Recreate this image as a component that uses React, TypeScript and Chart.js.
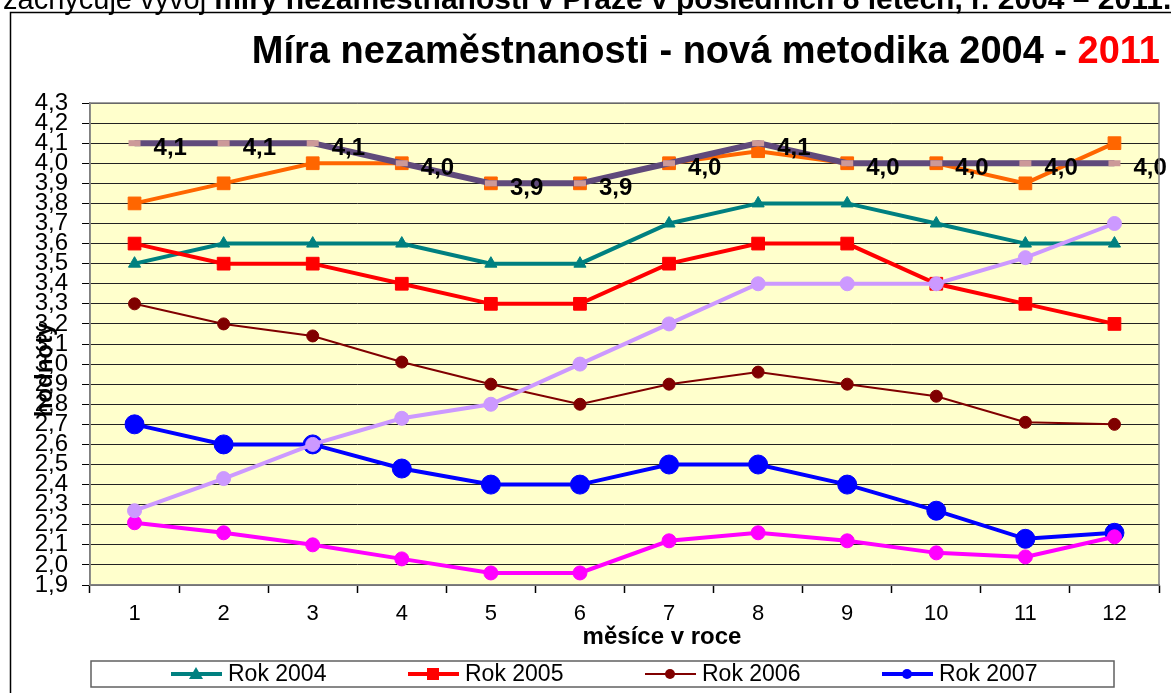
import React, { useEffect, useRef } from 'react';
import { Chart, registerables } from 'chart.js';

Chart.register(...registerables);

const FONT = '"Liberation Sans", Arial, sans-serif';

const months = ['1', '2', '3', '4', '5', '6', '7', '8', '9', '10', '11', '12'];
const seriesNames = ['Rok 2004', 'Rok 2005', 'Rok 2006', 'Rok 2007', 'Rok 2008', 'Rok 2009', 'Rok 2010', 'Rok 2011'];
const rok2004 = [3.5, 3.6, 3.6, 3.6, 3.5, 3.5, 3.7, 3.8, 3.8, 3.7, 3.6, 3.6];
const rok2005 = [3.6, 3.5, 3.5, 3.4, 3.3, 3.3, 3.5, 3.6, 3.6, 3.4, 3.3, 3.2];
const rok2006 = [3.3, 3.2, 3.14, 3.01, 2.9, 2.8, 2.9, 2.96, 2.9, 2.84, 2.71, 2.7];
const rok2007 = [2.7, 2.6, 2.6, 2.48, 2.4, 2.4, 2.5, 2.5, 2.4, 2.27, 2.13, 2.16];
const rok2008 = [2.21, 2.16, 2.1, 2.03, 1.96, 1.96, 2.12, 2.16, 2.12, 2.06, 2.04, 2.14];
const rok2009 = [2.27, 2.43, 2.6, 2.73, 2.8, 3.0, 3.2, 3.4, 3.4, 3.4, 3.53, 3.7];
const rok2010 = [3.8, 3.9, 4.0, 4.0, 3.9, 3.9, 4.0, 4.06, 4.0, 4.0, 3.9, 4.1];
const rok2011 = [4.1, 4.1, 4.1, 4.0, 3.9, 3.9, 4.0, 4.1, 4.0, 4.0, 4.0, 4.0];

const yMin = 1.9;
const yMax = 4.3;
const yStep = 0.1;

const titleMain = 'Míra nezaměstnanosti - nová metodika 2004 - ';
const titleRed = '2011';
const xTitle = 'měsíce v roce';
const yTitle = 'hodnoty';
const topTextRegular = 'zachycuje vývoj ';
const topTextBold = 'míry nezaměstnanosti v Praze v posledních 8 letech, r. 2004 – 2011.';

const fmt = (v: number) => v.toFixed(1).replace('.', ',');

const decorPlugin = {
  id: 'decor',
  beforeDraw(chart: any) {
    const ctx = chart.ctx;
    const a = chart.chartArea;
    ctx.save();
    ctx.fillStyle = '#ffffff';
    ctx.fillRect(0, 0, chart.width, chart.height);
    ctx.fillStyle = '#FFFFCC';
    ctx.fillRect(a.left, a.top, a.right - a.left, a.bottom - a.top);

    // cut-off document text at top
    ctx.fillStyle = '#000';
    ctx.textAlign = 'left';
    ctx.textBaseline = 'alphabetic';
    ctx.font = `29px ${FONT}`;
    ctx.fillText(topTextRegular, 3, 9);
    const w1 = ctx.measureText(topTextRegular).width;
    ctx.font = `bold 30px ${FONT}`;
    ctx.fillText(topTextBold, 3 + w1, 9);

    // frame of the chart object
    ctx.strokeStyle = '#000';
    ctx.lineWidth = 1.5;
    ctx.beginPath();
    ctx.moveTo(10.5, chart.height);
    ctx.lineTo(10.5, 12.5);
    ctx.lineTo(chart.width, 12.5);
    ctx.stroke();

    // title
    ctx.font = `bold 38px ${FONT}`;
    ctx.textAlign = 'right';
    ctx.fillStyle = '#FF0000';
    ctx.fillText(titleRed, 1160, 63);
    const wr = ctx.measureText(titleRed).width;
    ctx.fillStyle = '#000';
    ctx.fillText(titleMain, 1160 - wr, 63);
    ctx.restore();
  },
  afterDatasetsDraw(chart: any) {
    const ctx = chart.ctx;
    const idx = chart.data.datasets.length - 1;
    const meta = chart.getDatasetMeta(idx);
    const data = chart.data.datasets[idx].data;
    ctx.save();
    ctx.font = `bold 24px ${FONT}`;
    ctx.fillStyle = '#000';
    ctx.textAlign = 'left';
    ctx.textBaseline = 'middle';
    meta.data.forEach((pt: any, i: number) => {
      ctx.fillText(fmt(data[i]), pt.x + 19, pt.y + 5);
    });
    ctx.restore();
  },
  afterDraw(chart: any) {
    const ctx = chart.ctx;
    const a = chart.chartArea;
    ctx.save();
    ctx.strokeStyle = '#808080';
    ctx.lineWidth = 1.5;
    ctx.strokeRect(a.left, a.top, a.right - a.left, a.bottom - a.top);

    // axis titles
    ctx.fillStyle = '#000';
    ctx.font = `bold 24px ${FONT}`;
    ctx.textAlign = 'center';
    ctx.textBaseline = 'middle';
    ctx.fillText(xTitle, 662, 637);
    ctx.save();
    ctx.translate(45, 370);
    ctx.rotate(-Math.PI / 2);
    ctx.fillText(yTitle, 0, 0);
    ctx.restore();

    // legend (first four series)
    const boxL = 91, boxT = 661, boxR = 1114, boxB = 687;
    ctx.strokeStyle = '#606060';
    ctx.lineWidth = 1.5;
    ctx.strokeRect(boxL, boxT, boxR - boxL, boxB - boxT);
    const cy = (boxT + boxB) / 2;
    ctx.font = `23px ${FONT}`;
    ctx.textAlign = 'left';
    ctx.textBaseline = 'middle';
    for (let i = 0; i < 4; i++) {
      const ds = chart.data.datasets[i];
      const x0 = 171 + i * 237;
      ctx.strokeStyle = ds.borderColor;
      ctx.lineWidth = i === 2 ? 2 : 4;
      ctx.beginPath();
      ctx.moveTo(x0, cy);
      ctx.lineTo(x0 + 51, cy);
      ctx.stroke();
      const mx = x0 + 25;
      ctx.fillStyle = ds.borderColor;
      ctx.beginPath();
      if (ds.pointStyle === 'triangle') {
        ctx.moveTo(mx, cy - 7);
        ctx.lineTo(mx + 7, cy + 5);
        ctx.lineTo(mx - 7, cy + 5);
        ctx.closePath();
      } else if (ds.pointStyle === 'rect') {
        ctx.rect(mx - 6, cy - 6, 12, 12);
      } else {
        ctx.arc(mx, cy, 5, 0, Math.PI * 2);
      }
      ctx.fill();
      ctx.fillStyle = '#000';
      ctx.fillText(ds.label, x0 + 57, cy + 1);
    }
    ctx.restore();
  },
};

export default function App() {
  const ref = useRef<HTMLCanvasElement | null>(null);

  useEffect(() => {
    document.body.style.margin = '0';
    const canvas = ref.current;
    if (!canvas) return;
    const values = [rok2004, rok2005, rok2006, rok2007, rok2008, rok2009, rok2010, rok2011];
    const styles = [
      { color: '#008080', point: 'triangle', r: 7, w: 4 },
      { color: '#FF0000', point: 'rect', r: 9, w: 4 },
      { color: '#800000', point: 'circle', r: 6, w: 2 },
      { color: '#0000FF', point: 'circle', r: 9.5, w: 4 },
      { color: '#FF00FF', point: 'circle', r: 7, w: 4 },
      { color: '#CC99FF', point: 'circle', r: 7, w: 4 },
      { color: '#FF6600', point: 'rect', r: 9, w: 4 },
      { color: '#604A7B', point: 'line', r: 6, w: 6 },
    ];
    const datasets = values.map((d, i) => {
      const s = styles[i];
      const isLast = i === values.length - 1;
      return {
        label: seriesNames[i],
        data: d,
        borderColor: s.color,
        backgroundColor: s.color,
        borderWidth: s.w,
        pointStyle: s.point,
        pointRadius: s.r,
        pointHoverRadius: s.r,
        pointBackgroundColor: isLast ? '#CC9999' : s.color,
        pointBorderColor: isLast ? '#CC9999' : s.color,
        pointBorderWidth: isLast ? 6 : 1,
        tension: 0,
        fill: false,
        order: values.length - i,
      };
    });

    const chart = new Chart(canvas, {
      type: 'line',
      data: { labels: months, datasets },
      options: {
        responsive: false,
        animation: false,
        layout: { padding: { top: 103, left: 0, right: 2, bottom: 0 } },
        plugins: {
          legend: { display: false },
          tooltip: { enabled: false },
          title: { display: false },
        },
        scales: {
          x: {
            type: 'category',
            offset: true,
            afterFit: (scale: any) => {
              scale.height = 108;
            },
            grid: {
              offset: true,
              drawOnChartArea: false,
              drawTicks: true,
              tickLength: 8,
              tickColor: '#000',
              tickWidth: 1.5,
            },
            border: { display: true, color: '#808080', width: 1.5 },
            ticks: {
              color: '#000',
              font: { family: FONT, size: 22 },
              padding: 8,
              maxRotation: 0,
              autoSkip: false,
            },
          },
          y: {
            min: yMin,
            max: yMax,
            afterFit: (scale: any) => {
              scale.width = 90;
            },
            grid: {
              color: '#222222',
              lineWidth: 1,
              drawTicks: true,
              tickLength: 8,
              tickColor: '#000',
            },
            border: { display: true, color: '#808080', width: 1.5 },
            ticks: {
              stepSize: yStep,
              color: '#000',
              font: { family: FONT, size: 24, lineHeight: 1 },
              padding: 14,
              autoSkip: false,
              callback: (v: any) => fmt(Number(v)),
            },
          },
        },
      } as any,
      plugins: [decorPlugin],
    });
    return () => chart.destroy();
  }, []);

  return (
    <div style={{ position: 'relative', width: 1171, height: 693 }}>
      <canvas ref={ref} width={1171} height={693} style={{ display: 'block' }} />
    </div>
  );
}
